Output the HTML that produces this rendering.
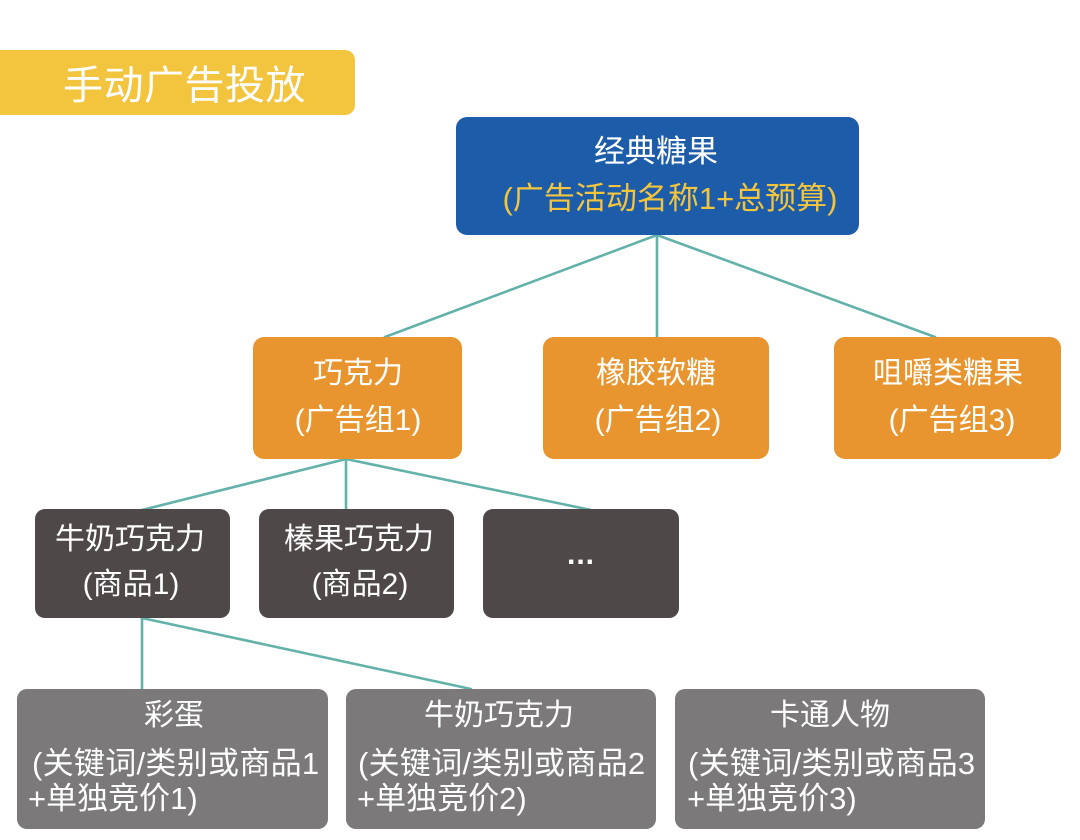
<!DOCTYPE html>
<html>
<head>
<meta charset="utf-8">
<style>
  html, body { margin:0; padding:0; }
  body { width:1080px; height:840px; position:relative; background:#ffffff; overflow:hidden;
         font-family:"Liberation Sans","Noto Sans CJK SC",sans-serif; }
  .box { position:absolute; border-radius:11px; }
  .t { position:absolute; height:40px; line-height:40px; white-space:nowrap; color:#fff; font-size:30px; }
  .c { width:600px; text-align:center; }
  .l { text-align:left; }
</style>
</head>
<body>
<!-- connectors -->
<svg width="1080" height="840" style="position:absolute;left:0;top:0" xmlns="http://www.w3.org/2000/svg">
  <g stroke="#63b2aa" stroke-width="2.6" fill="none" stroke-linecap="round">
    <line x1="657" y1="235" x2="385" y2="337"/>
    <line x1="657" y1="235" x2="657" y2="337"/>
    <line x1="657" y1="235" x2="935" y2="337"/>
    <line x1="346" y1="459" x2="142" y2="510"/>
    <line x1="346" y1="459" x2="346" y2="510"/>
    <line x1="346" y1="459" x2="591" y2="510"/>
    <line x1="142" y1="618" x2="142" y2="689"/>
    <line x1="142" y1="618" x2="471" y2="689"/>
  </g>
</svg>

<!-- title banner -->
<div class="box" style="left:-12px;top:50px;width:367px;height:65px;background:#f3c53f;border-radius:10px;"></div>
<div class="t l" style="left:63px;top:64px;height:44px;line-height:44px;font-size:40px;letter-spacing:0.5px;">手动广告投放</div>

<!-- blue root -->
<div class="box" style="left:456px;top:117px;width:403px;height:118px;background:#1c5ca9;"></div>
<div class="t c" style="left:356px;top:132px;font-size:31px;">经典糖果</div>
<div class="t c" style="left:370px;top:179px;font-size:31px;color:#f3c53f;">(广告活动名称1+总预算)</div>

<!-- orange groups -->
<div class="box" style="left:253px;top:337px;width:209px;height:122px;background:#e9952f;"></div>
<div class="t c" style="left:58px;top:354px;">巧克力</div>
<div class="t c" style="left:58px;top:401px;">(广告组1)</div>

<div class="box" style="left:543px;top:337px;width:226px;height:122px;background:#e9952f;"></div>
<div class="t c" style="left:356px;top:354px;">橡胶软糖</div>
<div class="t c" style="left:358px;top:401px;">(广告组2)</div>

<div class="box" style="left:834px;top:337px;width:227px;height:122px;background:#e9952f;"></div>
<div class="t c" style="left:648px;top:354px;">咀嚼类糖果</div>
<div class="t c" style="left:652px;top:401px;">(广告组3)</div>

<!-- dark product boxes -->
<div class="box" style="left:35px;top:509px;width:195px;height:109px;background:#4f4848;border-radius:10px;"></div>
<div class="t c" style="left:-170px;top:520px;">牛奶巧克力</div>
<div class="t c" style="left:-169px;top:565px;">(商品1)</div>

<div class="box" style="left:259px;top:509px;width:195px;height:109px;background:#4f4848;border-radius:10px;"></div>
<div class="t c" style="left:59px;top:520px;">榛果巧克力</div>
<div class="t c" style="left:60px;top:565px;">(商品2)</div>

<div class="box" style="left:483px;top:509px;width:196px;height:109px;background:#4f4848;border-radius:10px;"></div>
<div class="t c" style="left:281px;top:535px;font-size:30px;font-weight:bold;letter-spacing:1px;">...</div>

<!-- gray keyword boxes -->
<div class="box" style="left:17px;top:689px;width:311px;height:140px;background:#7b797a;border-radius:10px;"></div>
<div class="t c" style="left:-126px;top:696px;">彩蛋</div>
<div class="t l" style="left:32px;top:744px;font-size:31px;letter-spacing:0.3px;">(关键词/类别或商品1</div>
<div class="t l" style="left:28px;top:779px;font-size:31px;">+单独竞价1)</div>

<div class="box" style="left:346px;top:689px;width:310px;height:140px;background:#7b797a;border-radius:10px;"></div>
<div class="t c" style="left:199px;top:696px;">牛奶巧克力</div>
<div class="t l" style="left:358px;top:744px;font-size:31px;letter-spacing:0.3px;">(关键词/类别或商品2</div>
<div class="t l" style="left:357px;top:779px;font-size:31px;">+单独竞价2)</div>

<div class="box" style="left:675px;top:689px;width:310px;height:140px;background:#7b797a;border-radius:10px;"></div>
<div class="t c" style="left:530px;top:696px;">卡通人物</div>
<div class="t l" style="left:688px;top:744px;font-size:31px;letter-spacing:0.3px;">(关键词/类别或商品3</div>
<div class="t l" style="left:687px;top:779px;font-size:31px;">+单独竞价3)</div>
</body>
</html>
